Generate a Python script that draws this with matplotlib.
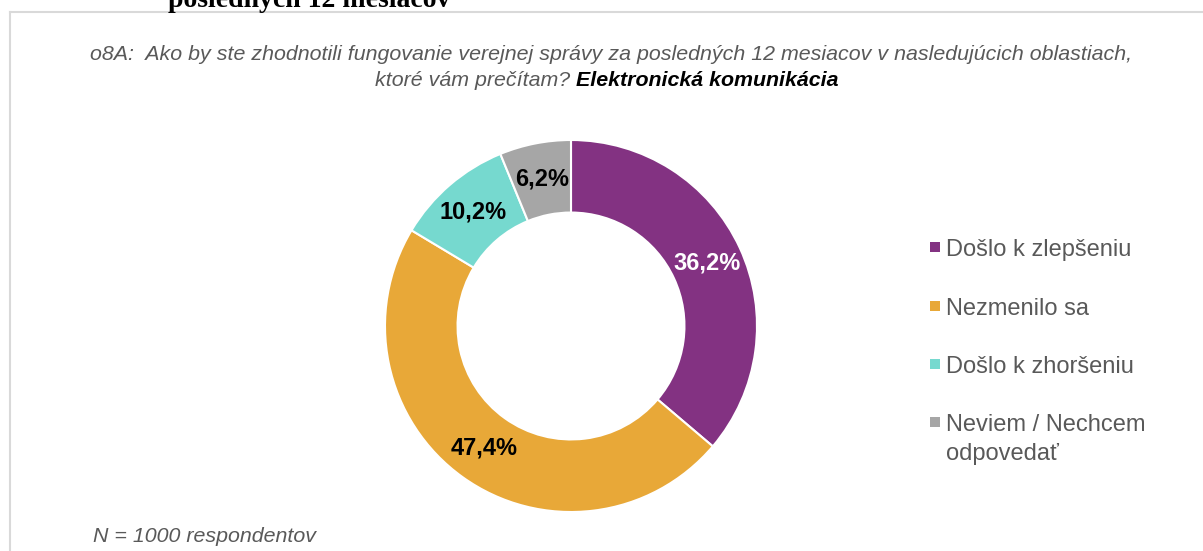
import matplotlib
matplotlib.use('Agg')
import numpy as np
import matplotlib.pyplot as plt
from matplotlib.lines import Line2D
from matplotlib.patches import Rectangle

# data
categories = ['Došlo k zlepšeniu', 'Nezmenilo sa', 'Došlo k zhoršeniu', 'Neviem / Nechcem\nodpovedať']
values = [36.2, 47.4, 10.2, 6.2]
colors = ['#833282', '#E8A838', '#76D9CF', '#A6A6A6']
label_colors = ['white', 'black', 'black', 'black']

W, H = 1203, 551
fig = plt.figure(figsize=(W / 100, H / 100), dpi=100)
plt.rcParams['font.family'] = ['Liberation Sans', 'DejaVu Sans']

def fx(px):
    return px / W

def fy(py):
    return 1 - py / H

# frame lines (light gray box, cut at top-right)
fig.add_artist(Line2D([fx(10), fx(10)], [fy(12), 0], color='#D9D9D9', lw=1.5))
fig.add_artist(Line2D([fx(10), 1], [fy(12), fy(12)], color='#D9D9D9', lw=1.5))

# cut-off slide heading above the box
fig.text(fx(309), fy(7), 'posledných 12 mesiacov', family='Liberation Serif',
         fontweight='bold', fontsize=20, ha='center', va='baseline', color='black')

# donut
cx, cy, r = 571, 326, 186
ax = fig.add_axes([fx(cx - r), 1 - (cy + r) / H, 2 * r / W, 2 * r / H])
wedges, _ = ax.pie(values, colors=colors, startangle=90, counterclock=False,
                   radius=1, wedgeprops=dict(width=0.39, edgecolor='white', linewidth=1.5))
ax.set_xlim(-1, 1)
ax.set_ylim(-1, 1)
ax.set_aspect('equal')
ax.axis('off')

total = sum(values)
start = 90.0
for v, c in zip(values, label_colors):
    mid = np.deg2rad(start - v / total * 360 / 2)
    start -= v / total * 360
    rr = 1 - 0.39 / 2
    ax.text(rr * np.cos(mid), rr * np.sin(mid), f'{v:.1f}%'.replace('.', ','),
            ha='center', va='center', fontsize=17, fontweight='bold', color=c)

# legend, drawn by hand so the square sits on the first line
gray = '#595959'
leg_y = [247, 306, 364, 422]
for lab, c, y in zip(categories, colors, leg_y):
    fig.add_artist(Rectangle((fx(930), fy(y + 5)), 10 / W, 10 / H, facecolor=c,
                             edgecolor='none', transform=fig.transFigure))
    fig.text(fx(946), fy(y - 8), lab, ha='left', va='top', fontsize=17,
             color=gray, linespacing=1.4)

# title, two lines, second with a bold part
fig.text(fx(611), fy(55), 'o8A:  Ako by ste zhodnotili fungovanie verejnej správy za posledných 12 mesiacov v nasledujúcich oblastiach,',
         ha='center', va='center', fontsize=15.4, style='italic', color=gray)
t1 = fig.text(0, fy(80), 'ktoré vám prečítam? ', ha='left', va='center', fontsize=15.4,
              style='italic', color=gray)
t2 = fig.text(0, fy(80), 'Elektronická komunikácia', ha='left', va='center', fontsize=15.4,
              style='italic', fontweight='bold', color='black')
fig.canvas.draw()
rend = fig.canvas.get_renderer()
w1 = t1.get_window_extent(rend).width
w2 = t2.get_window_extent(rend).width
x0 = 607 - (w1 + w2) / 2
t1.set_x(fx(x0))
t2.set_x(fx(x0 + w1))

fig.text(fx(93), fy(536), 'N = 1000 respondentov', ha='left', va='center', fontsize=15.4,
         style='italic', color=gray)

fig.savefig('out.png', dpi=100)
